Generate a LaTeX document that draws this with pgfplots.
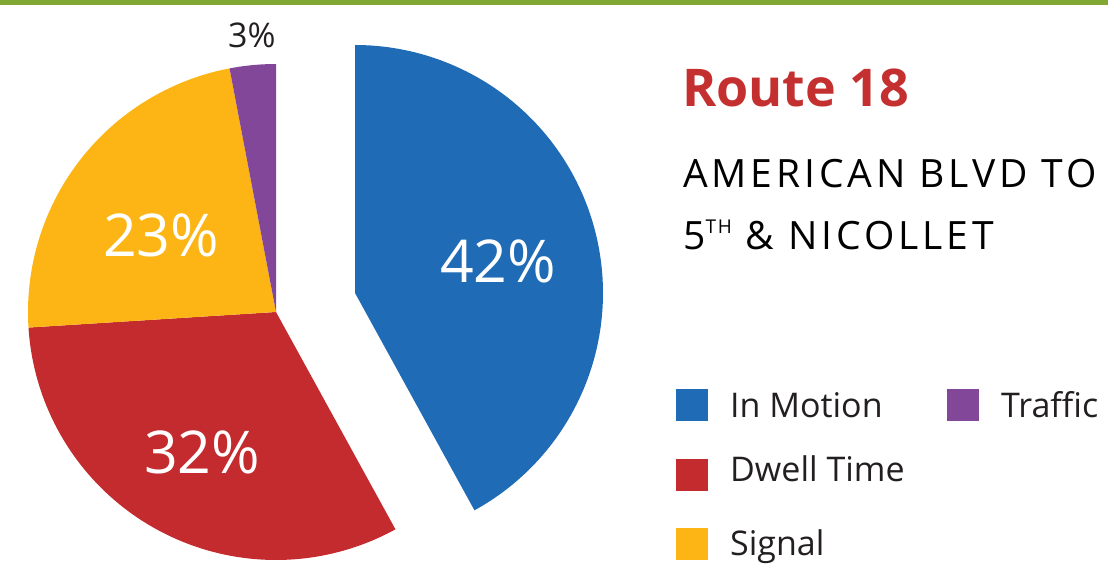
\documentclass[border=0pt]{standalone}
\usepackage{pgfplots}
\pgfplotsset{compat=1.18}
\usepackage{pgfplotstable}
\usepackage{fontspec}
\setmainfont{Open Sans}
\newfontfamily\spaced[LetterSpace=10]{Open Sans}
\definecolor{cMotion}{HTML}{1F6BB5}
\definecolor{cDwell}{HTML}{C42B2E}
\definecolor{cSignal}{HTML}{FCB515}
\definecolor{cTraffic}{HTML}{83479A}
\definecolor{cGreen}{HTML}{80A832}
\definecolor{cTitle}{HTML}{C4302F}
\definecolor{cText}{HTML}{231F20}
\pgfplotstableread{
cat value
InMotion 42
DwellTime 32
Signal 23
Traffic 3
}\piedata
\begin{document}
\begin{tikzpicture}
\pgfplotstablegetelem{0}{value}\of\piedata \let\vA\pgfplotsretval
\pgfplotstablegetelem{1}{value}\of\piedata \let\vB\pgfplotsretval
\pgfplotstablegetelem{2}{value}\of\piedata \let\vC\pgfplotsretval
\pgfplotstablegetelem{3}{value}\of\piedata \let\vD\pgfplotsretval
\pgfmathsetmacro{\aA}{90-3.6*\vA}
\pgfmathsetmacro{\aB}{\aA-3.6*\vB}
\pgfmathsetmacro{\aC}{\aB-3.6*\vC}
\pgfmathsetmacro{\aD}{\aC-3.6*\vD}
\begin{axis}[width=1108pt,height=569pt,scale only axis,
  xmin=0,xmax=1108,ymin=0,ymax=569,axis lines=none,ticks=none,clip=false]
% top green band
\addplot[draw=none,fill=cGreen] coordinates {(0,564) (1108,564) (1108,569) (0,569)} -- cycle;
% exploded slice
\addplot[draw=none,fill=cMotion,domain=\aA:90,samples=120,variable=\t]
  ({355+248*cos(\t)},{276+248*sin(\t)}) -- (355,276) -- cycle;
\addplot[draw=none,fill=cDwell,domain=\aB:\aA,samples=100,variable=\t]
  ({276+248*cos(\t)},{257+248*sin(\t)}) -- (276,257) -- cycle;
\addplot[draw=none,fill=cSignal,domain=\aC:\aB,samples=80,variable=\t]
  ({276+248*cos(\t)},{257+248*sin(\t)}) -- (276,257) -- cycle;
\addplot[draw=none,fill=cTraffic,domain=\aD:\aC,samples=20,variable=\t]
  ({276+248*cos(\t)},{257+248*sin(\t)}) -- (276,257) -- cycle;
% slice labels
\node[anchor=base west,text=white,font=\fontsize{59}{59}\selectfont,inner sep=0pt] at (axis cs:440,286) {\vA\%};
\node[anchor=base west,text=white,font=\fontsize{59}{59}\selectfont,inner sep=0pt] at (axis cs:144,95) {\vB\%};
\node[anchor=base west,text=white,font=\fontsize{59}{59}\selectfont,inner sep=0pt] at (axis cs:103,312) {\vC\%};
\node[anchor=base west,text=cText,font=\fontsize{34}{34}\selectfont,inner sep=0pt] at (axis cs:228,521) {\vD\%};
% titles
\node[anchor=base west,text=cTitle,font=\fontsize{52}{52}\selectfont\bfseries,inner sep=0pt] at (axis cs:682,462) {Route 18};
\node[anchor=base west,text=black,font=\fontsize{39}{39}\spaced,inner sep=0pt] at (axis cs:683,381) {AMERICAN BLVD TO};
\node[anchor=base west,text=black,font=\fontsize{39}{39}\spaced,inner sep=0pt] at (axis cs:683,319) {5\raisebox{16pt}{\fontsize{19}{19}\spaced TH} \& NICOLLET};
% legend
\addplot[draw=none,fill=cMotion] coordinates {(676,148) (708,148) (708,180) (676,180)} -- cycle;
\addplot[draw=none,fill=cDwell] coordinates {(676,78) (708,78) (708,110) (676,110)} -- cycle;
\addplot[draw=none,fill=cSignal] coordinates {(676,9) (708,9) (708,41) (676,41)} -- cycle;
\addplot[draw=none,fill=cTraffic] coordinates {(947,148) (979,148) (979,180) (947,180)} -- cycle;
\node[anchor=base west,text=cText,font=\fontsize{34}{34}\selectfont,inner sep=0pt] at (axis cs:730,151) {In Motion};
\node[anchor=base west,text=cText,font=\fontsize{34}{34}\selectfont,inner sep=0pt] at (axis cs:730,87) {Dwell Time};
\node[anchor=base west,text=cText,font=\fontsize{34}{34}\selectfont,inner sep=0pt] at (axis cs:730,13) {Signal};
\node[anchor=base west,text=cText,font=\fontsize{34}{34}\selectfont,inner sep=0pt] at (axis cs:1001,151) {Traffic};
\end{axis}
\end{tikzpicture}
\end{document}
